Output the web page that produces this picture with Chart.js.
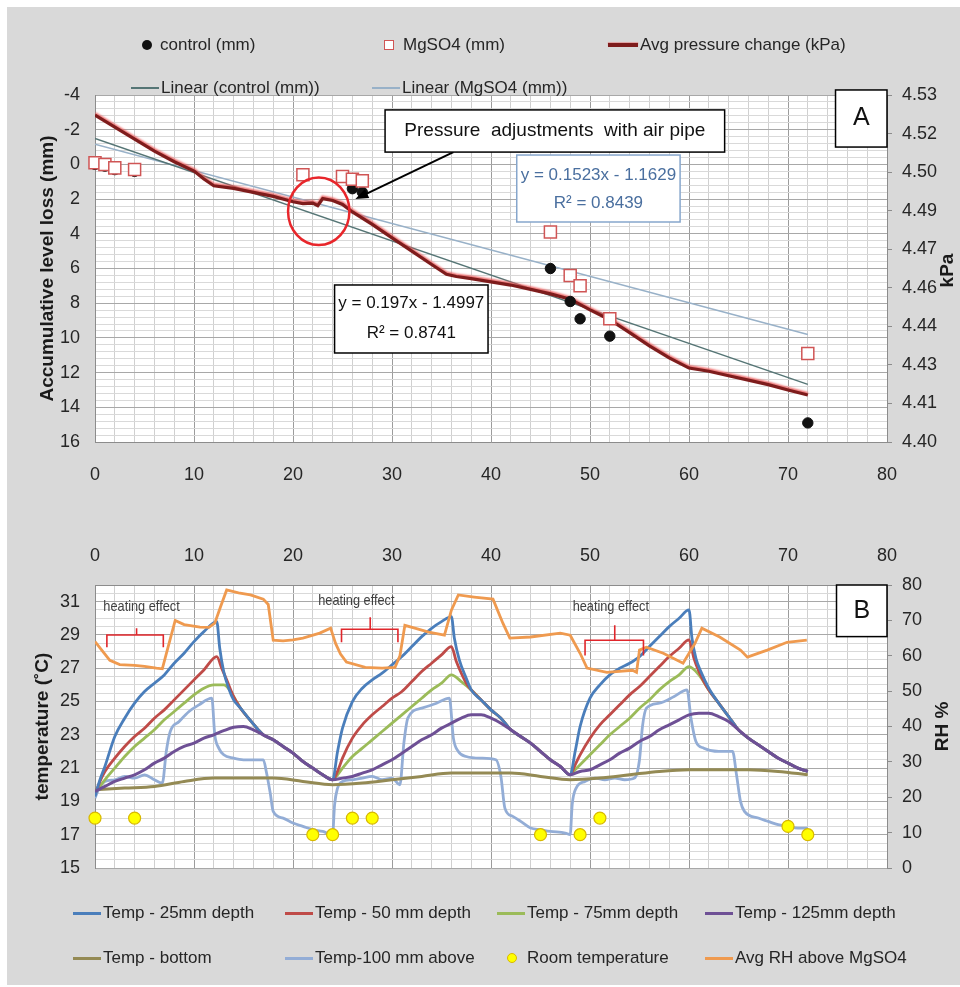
<!DOCTYPE html>
<html>
<head>
<meta charset="utf-8">
<script src="https://cdn.jsdelivr.net/npm/chart.js@4.4.0/dist/chart.umd.min.js"></script>
<style>
  html, body { margin: 0; padding: 0; background: #fff; }
  #wrap { position: relative; width: 960px; height: 987px; overflow: hidden; font-family: "Liberation Sans", Arial, sans-serif; }
  #panel { position: absolute; left: 7px; top: 7px; right: 0; bottom: 2px; background: #d9d9d9; }
  canvas { position: absolute; left: 0; }
  #levelChart { top: 0; }
  #tempChart { top: 520px; }
  .lg { position: absolute; font-size: 17px; color: #262626; white-space: nowrap; line-height: 20px; }
  .mk { position: absolute; }
</style>
</head>
<body>
<div id="wrap">
  <div id="panel"></div>
  <canvas id="levelChart" width="960" height="520"></canvas>
  <canvas id="tempChart" width="960" height="467"></canvas>
  <div id="legends"></div>
</div>
<script>
// ---------- panel A : level loss and pressure ----------
const ctrlHours = [0, 1, 2, 4, 26, 27, 46, 48, 49, 52, 72];
const ctrlLoss = [0.0, 0.1, 0.3, 0.4, 1.4, 1.6, 6.0, 7.9, 8.9, 9.9, 14.9];
const mgHours = [0, 1, 2, 4, 21, 25, 26, 27, 46, 48, 49, 52, 72];
const mgLoss = [-0.1, 0.0, 0.2, 0.3, 0.6, 0.7, 0.85, 0.95, 3.9, 6.4, 7.0, 8.9, 10.9];
const trendHours = [0, 72];
const ctrlTrend = [-1.50, 12.68];
const mgTrend = [-1.16, 9.80];
const pressHours = [0, 2, 4, 6, 8, 10, 11, 12, 14, 16, 18, 20, 21, 22, 22.5, 23, 24, 25, 26, 28, 30, 32, 34, 35.5, 36.5, 38, 40, 42, 44, 46, 48, 50, 52, 54, 56, 58, 60, 62, 64, 66, 68, 70, 72];
const pressKpa = [4.5225, 4.5180, 4.5135, 4.5090, 4.5050, 4.5015, 4.4985, 4.4960, 4.4950, 4.4935, 4.4920, 4.4900, 4.4893, 4.4895, 4.4885, 4.4912, 4.4905, 4.4890, 4.4862, 4.4815, 4.4765, 4.4715, 4.4665, 4.4628, 4.4620, 4.4612, 4.4600, 4.4588, 4.4572, 4.4555, 4.4535, 4.4495, 4.4458, 4.4410, 4.4360, 4.4315, 4.4277, 4.4265, 4.4248, 4.4232, 4.4215, 4.4195, 4.4176];

// ---------- panel B : temperatures and RH ([hour, value]) ----------
const temp25 = [[0,19.3],[0.5,20.3],[1,21.1],[2,22.9],[3,24.0],[4,24.9],[5,25.6],[6,26.1],[7,26.6],[8,27.3],[9,27.9],[10,28.6],[11,29.2],[12.3,29.8],[12.6,28.2],[13,26.8],[13.5,25.8],[14,25.1],[14.7,24.6],[15.5,24.0],[16.5,23.3],[17,23.0],[18,22.7],[19,22.3],[20,21.9],[21,21.4],[22,21.0],[23,20.6],[24,20.3],
  [24.5,22.0],[25,23.4],[26,25.0],[27,25.8],[28,26.3],[29,26.7],[30,27.2],[31,27.7],[32,28.3],[33,28.9],[34,29.4],[35,29.8],[36,30.1],[36.3,28.8],[36.8,27.5],[37.5,26.4],[38,25.7],[39,25.1],[40,24.5],[41,24.0],[42,23.3],[43,22.9],[44,22.5],[45,22.0],[46,21.5],[47,21.1],[48,20.6],
  [48.5,22.0],[49,23.5],[50,25.2],[51,26.0],[52,26.6],[53,27.0],[54,27.3],[55,27.7],[56,28.3],[57,28.9],[58,29.5],[59,30.0],[60,30.5],[60.3,28.8],[60.7,27.6],[61.2,26.8],[62,25.8],[63,24.9],[64,24.1],[65,23.3],[66,22.8],[67,22.4],[68,22.0],[69,21.6],[70,21.3],[71,21.0],[72,20.8]];
const temp50 = [[0,19.4],[0.5,20.2],[1,20.8],[2,21.6],[3,22.3],[4,22.9],[5,23.4],[6,24.0],[7,24.5],[8,25.1],[9,25.7],[10,26.3],[11,26.9],[12.3,27.7],[12.8,27.0],[13.3,26.3],[14,25.3],[14.7,24.6],[15.5,24.0],[16.5,23.3],[17,23.0],[18,22.7],[19,22.3],[20,21.9],[21,21.4],[22,21.0],[23,20.6],[24,20.3],
  [24.5,20.8],[25,21.6],[26,22.8],[27,23.6],[28,24.2],[29,24.7],[30,25.2],[31,25.6],[32,26.2],[33,26.8],[34,27.3],[35,27.8],[36,28.3],[36.5,27.4],[37,26.7],[37.5,26.1],[38,25.7],[39,25.1],[40,24.5],[41,24.0],[42,23.3],[43,22.9],[44,22.5],[45,22.0],[46,21.5],[47,21.1],[48,20.6],
  [48.5,21.2],[49,21.8],[50,22.8],[51,23.6],[52,24.2],[53,24.8],[54,25.4],[55,25.9],[56,26.5],[57,27.1],[58,27.7],[59,28.2],[60,28.7],[60.5,27.6],[61,26.8],[61.5,26.2],[62,25.7],[63,24.9],[64,24.1],[65,23.3],[66,22.8],[67,22.4],[68,22.0],[69,21.6],[70,21.3],[71,21.0],[72,20.8]];
const temp75 = [[0,19.5],[1,20.3],[2,21.0],[3,21.7],[4,22.3],[5,22.8],[6,23.3],[7,23.9],[8,24.4],[9,24.9],[10,25.4],[11,25.8],[12,26.0],[13,26.0],[13.6,25.7],[14.2,25.1],[14.7,24.6],[15.5,24.0],[16.5,23.3],[17,23.0],[18,22.7],[19,22.3],[20,21.9],[21,21.4],[22,21.0],[23,20.6],[24,20.3],
  [24.5,20.6],[25,21.0],[26,21.7],[27,22.2],[28,22.7],[29,23.2],[30,23.7],[31,24.2],[32,24.7],[33,25.2],[34,25.7],[35,26.1],[36,26.6],[37,26.2],[38,25.7],[39,25.1],[40,24.5],[41,24.0],[42,23.3],[43,22.9],[44,22.5],[45,22.0],[46,21.5],[47,21.1],[48,20.6],
  [48.5,20.9],[49,21.2],[50,21.8],[51,22.4],[52,23.0],[53,23.5],[54,24.0],[55,24.6],[56,25.1],[57,25.7],[58,26.2],[59,26.6],[60,27.1],[61,26.6],[62,25.7],[63,24.9],[64,24.1],[65,23.3],[66,22.8],[67,22.4],[68,22.0],[69,21.6],[70,21.3],[71,21.0],[72,20.8]];
const temp125 = [[0,19.6],[1,19.9],[2,20.2],[3,20.4],[4,20.6],[5,20.9],[6,21.3],[7,21.6],[8,22.0],[9,22.3],[10,22.5],[11,22.8],[12,23.0],[13,23.25],[14,23.45],[15,23.5],[16,23.3],[17,23.0],[18,22.7],[19,22.3],[20,21.9],[21,21.4],[22,21.0],[23,20.6],[24,20.3],
  [25,20.4],[26,20.5],[27,20.7],[28,20.9],[29,21.2],[30,21.5],[31,21.9],[32,22.3],[33,22.7],[34,23.0],[35,23.4],[36,23.7],[37,24.0],[38,24.2],[39,24.2],[40,24.0],[41,23.7],[42,23.3],[43,22.9],[44,22.5],[45,22.0],[46,21.5],[47,21.1],[48,20.6],
  [49,20.8],[50,20.9],[51,21.2],[52,21.5],[53,21.9],[54,22.2],[55,22.6],[56,22.9],[57,23.3],[58,23.6],[59,23.9],[60,24.2],[61,24.3],[62,24.3],[63,24.1],[64,23.8],[65,23.3],[66,22.8],[67,22.4],[68,22.0],[69,21.6],[70,21.3],[71,21.0],[72,20.8]];
const tempBottom = [[0,19.7],[3,19.8],[6,19.9],[9,20.2],[12,20.4],[15,20.4],[18,20.4],[21,20.2],[24,20.0],[27,20.1],[30,20.3],[33,20.5],[36,20.7],[39,20.7],[42,20.7],[45,20.5],[48,20.3],[51,20.4],[54,20.6],[57,20.8],[60,20.9],[63,20.9],[66,20.9],[69,20.8],[72,20.6]];
const temp100Above = [[0,19.2],[0.5,19.9],[1,20.2],[2,20.3],[3,20.5],[4,20.4],[5,20.6],[6,20.3],[6.8,20.1],[7.2,22.0],[7.6,23.2],[8.5,23.8],[9.5,24.4],[10.5,24.8],[11.8,25.2],[12.1,23.0],[12.5,22.2],[13,21.8],[14,21.6],[15,21.5],[16,21.5],[17,21.5],[17.3,20.8],[17.7,19.5],[18,18.4],[19,18.0],[20,17.7],[21,17.5],[22,17.3],[23,17.2],[24,17.0],
  [24.2,18.8],[24.5,19.8],[25,20.2],[26,20.3],[27,20.4],[28,20.5],[29,20.3],[30,20.4],[30.8,20.0],[31.2,22.5],[31.6,24.0],[33,24.6],[34.5,24.9],[35.8,25.2],[36.2,22.8],[36.7,22.0],[37.5,21.7],[39,21.6],[40.5,21.5],[41,20.5],[41.4,18.6],[42.2,18.1],[43,17.8],[44,17.4],[45,17.3],[46,17.2],[47.5,17.1],[48,17.0],
  [48.2,18.8],[48.6,19.8],[49.5,20.2],[50.5,20.4],[51.5,20.3],[52.5,20.4],[53.5,20.3],[54.5,20.4],[55,21.5],[55.3,23.5],[55.7,24.6],[57,24.9],[58.5,25.3],[59.8,25.7],[60.2,24.0],[60.7,22.6],[61.5,22.2],[63,22.0],[64.4,22.0],[64.8,20.6],[65.2,19.0],[65.6,18.4],[67,18.0],[68,17.8],[69,17.6],[70,17.5],[71,17.4],[72,17.4]];
const roomTemp = [[0,18],[4,18],[22,17],[24,17],[26,18],[28,18],[45,17],[49,17],[51,18],[70,17.5],[72,17]];
const rhAvg = [[0,64.0],[0.7,61.5],[1.5,58.7],[2.5,57.5],[4,57.3],[5,57.0],[6.2,56.5],[6.8,56.3],[7.3,61.6],[8.1,70.0],[9,68.8],[10.6,68.1],[11.5,68.0],[12.1,69.2],[12.7,74.0],[13.3,78.6],[14.5,77.8],[15.7,77.2],[17,76.0],[17.5,74.5],[18,64.4],[19,64.2],[20,64.5],[21,65.0],[22.7,66.4],[23.8,67.8],
  [24.3,63.5],[24.8,60.5],[25.4,58.2],[27.3,56.7],[29,56.5],[30.3,56.7],[30.8,60.0],[31.3,68.6],[32.3,67.8],[33.7,66.7],[35.3,65.8],[36,72.9],[36.7,77.2],[38.3,76.6],[40.2,76.0],[41.2,69.2],[41.9,65.0],[44,65.3],[47,66.4],[48,65.8],
  [49,60.7],[49.7,56.5],[51.7,55.3],[54.3,55.9],[54.7,55.3],[55,61.6],[55.7,62.4],[57.4,60.7],[59.4,57.9],[60.6,63.5],[61.3,67.8],[63.1,65.3],[65.2,61.6],[65.9,59.6],[67.9,61.6],[69.9,63.8],[71.9,64.4]];

const FONT = '"Liberation Sans", Arial, sans-serif';
Chart.defaults.font.family = FONT;
Chart.defaults.font.size = 18;
Chart.defaults.color = '#262626';

const zip = (xs, ys) => xs.map((x, i) => ({ x: x, y: ys[i] }));
const pairs = arr => arr.map(p => ({ x: p[0], y: p[1] }));
const near = (a, b) => Math.abs(a - b) < 1e-6;

const plotBg = {
  id: 'plotBg',
  beforeDraw(chart) {
    const { ctx, chartArea: a } = chart;
    ctx.save();
    ctx.fillStyle = '#ffffff';
    ctx.fillRect(a.left, a.top, a.right - a.left, a.bottom - a.top);
    ctx.restore();
  }
};

function vTitle(ctx, text, x, y) {
  ctx.save();
  ctx.translate(x, y);
  ctx.rotate(-Math.PI / 2);
  ctx.textAlign = 'center';
  ctx.textBaseline = 'middle';
  ctx.font = 'bold 19px ' + FONT;
  ctx.fillStyle = '#1a1a1a';
  ctx.fillText(text, 0, 0);
  ctx.restore();
}

function noteBox(ctx, x0, y0, x1, y1, stroke, lw) {
  ctx.fillStyle = '#ffffff';
  ctx.fillRect(x0, y0, x1 - x0, y1 - y0);
  ctx.strokeStyle = stroke;
  ctx.lineWidth = lw;
  ctx.strokeRect(x0, y0, x1 - x0, y1 - y0);
}

function noteText(ctx, text, x, y, size, color) {
  ctx.font = size + 'px ' + FONT;
  ctx.fillStyle = color;
  ctx.textAlign = 'center';
  ctx.textBaseline = 'middle';
  ctx.fillText(text, x, y);
}

// pressure line halo
const halo = {
  id: 'halo',
  beforeDatasetDraw(chart, args) {
    if (chart.data.datasets[args.index].halo) {
      chart.ctx.save();
      chart.ctx.shadowColor = 'rgba(235,90,90,0.85)';
      chart.ctx.shadowBlur = 2;
      chart.ctx.shadowOffsetY = -1.5;
    }
  },
  afterDatasetDraw(chart, args) {
    if (chart.data.datasets[args.index].halo) chart.ctx.restore();
  }
};

const levelNotes = {
  id: 'levelNotes',
  afterDatasetsDraw(chart) {
    const { ctx, chartArea: a, scales: { x, y } } = chart;
    const px = v => x.getPixelForValue(v), py = v => y.getPixelForValue(v);
    ctx.save();
    // circle round the adjustment
    ctx.strokeStyle = '#e8262b';
    ctx.lineWidth = 2.5;
    ctx.beginPath();
    ctx.ellipse(px(22.6), py(2.7), px(25.7) - px(22.6), py(4.65) - py(2.7), 0, 0, Math.PI * 2);
    ctx.stroke();
    // arrow
    const ax0 = px(36.2), ay0 = py(-0.71), ax1 = px(26.3), ay1 = py(2.0);
    const ang = Math.atan2(ay1 - ay0, ax1 - ax0);
    ctx.strokeStyle = '#000';
    ctx.lineWidth = 2;
    ctx.beginPath();
    ctx.moveTo(ax0, ay0);
    ctx.lineTo(ax1 - 8 * Math.cos(ang), ay1 - 8 * Math.sin(ang));
    ctx.stroke();
    ctx.fillStyle = '#000';
    ctx.beginPath();
    ctx.moveTo(ax1, ay1);
    ctx.lineTo(ax1 - 13 * Math.cos(ang) + 5 * Math.sin(ang), ay1 - 13 * Math.sin(ang) - 5 * Math.cos(ang));
    ctx.lineTo(ax1 - 13 * Math.cos(ang) - 5 * Math.sin(ang), ay1 - 13 * Math.sin(ang) + 5 * Math.cos(ang));
    ctx.closePath();
    ctx.fill();
    // annotation boxes
    noteBox(ctx, px(29.3), py(-3.14), px(63.6), py(-0.71), '#000', 1.5);
    noteText(ctx, 'Pressure  adjustments  with air pipe', px(46.45), py(-1.93), 19, '#111');
    noteBox(ctx, px(42.6), py(-0.54), px(59.1), py(3.32), '#86a6cc', 1.5);
    noteText(ctx, 'y = 0.1523x - 1.1629', px(50.85), py(0.61), 17, '#4a6f9f');
    noteText(ctx, 'R\u00b2 = 0.8439', px(50.85), py(2.22), 17, '#4a6f9f');
    noteBox(ctx, px(24.2), py(6.95), px(39.7), py(10.87), '#000', 1.5);
    noteText(ctx, 'y = 0.197x - 1.4997', px(31.95), py(7.99), 17, '#111');
    noteText(ctx, 'R\u00b2 = 0.8741', px(31.95), py(9.72), 17, '#111');
    noteBox(ctx, px(74.8), py(-4.29), px(80), py(-1.0), '#000', 1.5);
    noteText(ctx, 'A', px(77.4), py(-2.67), 25, '#111');
    vTitle(ctx, 'Accumulative level loss (mm)', a.left - 47, (a.top + a.bottom) / 2);
    vTitle(ctx, 'kPa', a.right + 61, (a.top + a.bottom) / 2 + 2);
    ctx.restore();
  }
};

new Chart(document.getElementById('levelChart'), {
  type: 'scatter',
  data: {
    datasets: [{
      label: 'MgSO4 (mm)',
      data: zip(mgHours, mgLoss),
      pointStyle: 'rect',
      pointRadius: 8.5,
      borderColor: '#d05555',
      backgroundColor: '#ffffff',
      borderWidth: 1.5,
      clip: false,
      order: 0
    }, {
      label: 'control (mm)',
      data: zip(ctrlHours, ctrlLoss),
      pointRadius: 5.2,
      borderColor: '#111111',
      backgroundColor: '#111111',
      clip: false,
      order: 1
    }, {
      label: 'Avg pressure change (kPa)',
      type: 'line',
      data: zip(pressHours, pressKpa),
      yAxisID: 'y2',
      borderColor: '#7e1c1c',
      borderWidth: 3.2,
      pointRadius: 0,
      tension: 0,
      halo: true,
      order: 2
    }, {
      label: 'Linear (control (mm))',
      type: 'line',
      data: zip(trendHours, ctrlTrend),
      borderColor: '#557575',
      borderWidth: 1.5,
      pointRadius: 0,
      order: 3
    }, {
      label: 'Linear (MgSO4 (mm))',
      type: 'line',
      data: zip(trendHours, mgTrend),
      borderColor: '#98b1c8',
      borderWidth: 1.5,
      pointRadius: 0,
      order: 4
    }]
  },
  plugins: [plotBg, halo, levelNotes],
  options: {
    responsive: false,
    animation: false,
    events: [],
    layout: { padding: { top: 95, left: 0, right: 0, bottom: 0 } },
    plugins: { legend: { display: false }, tooltip: { enabled: false } },
    scales: {
      x: {
        type: 'linear', min: 0, max: 80,
        afterFit: s => { s.height = 78; },
        border: { color: '#8c8c8c' },
        grid: { drawTicks: false, color: c => (c.tick && c.tick.value % 10 === 0) ? '#9c9c9c' : '#d0d0d0' },
        ticks: { stepSize: 2, autoSkip: false, maxRotation: 0, padding: 22, callback: v => v % 10 === 0 ? String(v) : '' }
      },
      y: {
        min: -4, max: 16, reverse: true,
        afterFit: s => { s.width = 95; },
        border: { color: '#8c8c8c' },
        grid: { drawTicks: false, color: c => (c.tick && near(c.tick.value, Math.round(c.tick.value)) && Math.round(c.tick.value) % 2 === 0) ? '#a8a8a8' : '#d9d9d9' },
        ticks: { stepSize: 0.4, autoSkip: false, padding: 15, callback: v => (near(v, Math.round(v)) && Math.round(v) % 2 === 0) ? String(Math.round(v)) : '' }
      },
      y2: {
        position: 'right', min: 4.40, max: 4.53,
        afterFit: s => { s.width = 73; },
        border: { color: '#8c8c8c' },
        grid: { drawOnChartArea: false, tickLength: 5, color: '#8c8c8c' },
        ticks: { stepSize: 0.13 / 9, padding: 10, callback: v => v.toFixed(2) }
      }
    }
  }
});

// heating brackets: [x0, x1, yTop, yEnd, xTick, yTick, textX, textY]
const heatNotes = [
  [1.2, 6.9, 29.0, 28.26, 4.2, 29.4, 4.7, 30.67],
  [24.9, 30.6, 29.34, 28.56, 27.8, 30.07, 26.4, 31.03],
  [49.5, 55.4, 28.68, 27.77, 52.5, 29.58, 52.1, 30.67]
];

const tempNotes = {
  id: 'tempNotes',
  afterDatasetsDraw(chart) {
    const { ctx, chartArea: a, scales: { x, y } } = chart;
    const px = v => x.getPixelForValue(v), py = v => y.getPixelForValue(v);
    ctx.save();
    heatNotes.forEach(h => {
      ctx.strokeStyle = '#e0262b';
      ctx.lineWidth = 1.6;
      ctx.beginPath();
      ctx.moveTo(px(h[0]), py(h[3]));
      ctx.lineTo(px(h[0]), py(h[2]));
      ctx.lineTo(px(h[1]), py(h[2]));
      ctx.lineTo(px(h[1]), py(h[3]));
      ctx.moveTo(px(h[4]), py(h[2]));
      ctx.lineTo(px(h[4]), py(h[5]));
      ctx.stroke();
      ctx.save();
      ctx.translate(px(h[6]), py(h[7]));
      ctx.scale(0.85, 1);
      noteText(ctx, 'heating effect', 0, 0, 15, '#404040');
      ctx.restore();
    });
    noteBox(ctx, px(74.9), py(32), px(80), py(28.9), '#000', 1.5);
    noteText(ctx, 'B', px(77.45), py(30.45), 25, '#111');
    vTitle(ctx, 'temperature (\u02daC)', a.left - 52, (a.top + a.bottom) / 2);
    vTitle(ctx, 'RH %', a.right + 56, (a.top + a.bottom) / 2);
    ctx.restore();
  }
};

const tempLine = (label, data, color, width, axis) => ({
  label: label, type: 'line', data: pairs(data), borderColor: color, backgroundColor: color,
  borderWidth: width, pointRadius: 0, cubicInterpolationMode: 'monotone', yAxisID: axis || 'y'
});

new Chart(document.getElementById('tempChart'), {
  type: 'line',
  data: {
    datasets: [
      { label: 'Room temperature', type: 'scatter', data: pairs(roomTemp), pointRadius: 6, backgroundColor: '#ffff00', borderColor: '#d8b800', borderWidth: 1.2, clip: false, order: 0 },
      Object.assign(tempLine('Temp - 25mm depth', temp25, '#4a7ebb', 2.8), { order: 3 }),
      Object.assign(tempLine('Temp - 50 mm depth', temp50, '#bf4b48', 2.8), { order: 4 }),
      Object.assign(tempLine('Temp - 75mm depth', temp75, '#9bbb59', 2.8), { order: 5 }),
      Object.assign(tempLine('Temp - 125mm depth', temp125, '#6e5095', 3), { order: 2 }),
      Object.assign(tempLine('Temp - bottom', tempBottom, '#948a54', 3), { order: 6 }),
      Object.assign(tempLine('Temp-100 mm above', temp100Above, '#93add6', 2.8), { order: 7 }),
      Object.assign(tempLine('Avg RH above MgSO4', rhAvg, '#ef9a4f', 2.8, 'y2'), { order: 1, cubicInterpolationMode: 'default', tension: 0 })
    ]
  },
  plugins: [plotBg, tempNotes],
  options: {
    responsive: false,
    animation: false,
    events: [],
    layout: { padding: { top: 0, left: 0, right: 0, bottom: 119 } },
    plugins: { legend: { display: false }, tooltip: { enabled: false } },
    scales: {
      x: {
        type: 'linear', position: 'top', min: 0, max: 80,
        afterFit: s => { s.height = 65; },
        border: { color: '#8c8c8c' },
        grid: { drawTicks: false, color: c => (c.tick && c.tick.value % 10 === 0) ? '#9c9c9c' : '#d0d0d0' },
        ticks: { stepSize: 2, autoSkip: false, maxRotation: 0, padding: 18, callback: v => v % 10 === 0 ? String(v) : '' }
      },
      y: {
        min: 15, max: 32,
        afterFit: s => { s.width = 95; },
        border: { color: '#8c8c8c' },
        grid: { drawTicks: false, color: c => (c.tick && near(c.tick.value, Math.round(c.tick.value)) && (Math.round(c.tick.value) - 15) % 2 === 0) ? '#a8a8a8' : '#d9d9d9' },
        ticks: { stepSize: 0.5, autoSkip: false, padding: 15, callback: v => (near(v, Math.round(v)) && (Math.round(v) - 15) % 2 === 0) ? String(Math.round(v)) : '' }
      },
      y2: {
        position: 'right', min: 0, max: 80,
        afterFit: s => { s.width = 73; },
        border: { color: '#8c8c8c' },
        grid: { drawOnChartArea: false, tickLength: 5, color: '#8c8c8c' },
        ticks: { stepSize: 10, padding: 10 }
      }
    }
  }
});

// ---------- legends (html) ----------
const legendHost = document.getElementById('legends');
function legendItem(label, mark, color, mx, tx, y, extra) {
  const m = document.createElement('div');
  m.className = 'mk';
  if (mark === 'dot') {
    Object.assign(m.style, { left: (mx - 5) + 'px', top: (y - 5) + 'px', width: '10px', height: '10px', borderRadius: '50%', background: color, boxSizing: 'border-box', border: extra ? '1px solid ' + extra : 'none' });
  } else if (mark === 'rect') {
    Object.assign(m.style, { left: (mx - 5) + 'px', top: (y - 5) + 'px', width: '10px', height: '10px', background: '#fff', boxSizing: 'border-box', border: '1.5px solid ' + color });
  } else {
    const w = extra || 3;
    Object.assign(m.style, { left: mx + 'px', top: (y - w / 2) + 'px', width: (tx - mx - 2) + 'px', height: w + 'px', background: color });
    if (label.indexOf('pressure') >= 0) m.style.boxShadow = '0 -1.5px 1px rgba(235,90,90,0.8)';
  }
  legendHost.appendChild(m);
  const t = document.createElement('div');
  t.className = 'lg';
  t.textContent = label;
  t.style.left = tx + 'px';
  t.style.top = (y - 10) + 'px';
  legendHost.appendChild(t);
}

legendItem('control (mm)', 'dot', '#111', 147, 160, 45);
legendItem('MgSO4 (mm)', 'rect', '#d05555', 389, 403, 45);
legendItem('Avg pressure change (kPa)', 'line', '#7e1c1c', 608, 640, 45, 4);
legendItem('Linear (control (mm))', 'line', '#557575', 131, 161, 88, 2);
legendItem('Linear (MgSO4 (mm))', 'line', '#98b1c8', 372, 402, 88, 2);

legendItem('Temp - 25mm depth', 'line', '#4a7ebb', 73, 103, 913);
legendItem('Temp - 50 mm depth', 'line', '#bf4b48', 285, 315, 913);
legendItem('Temp - 75mm depth', 'line', '#9bbb59', 497, 527, 913);
legendItem('Temp - 125mm depth', 'line', '#6e5095', 705, 735, 913);
legendItem('Temp - bottom', 'line', '#948a54', 73, 103, 958);
legendItem('Temp-100 mm above', 'line', '#93add6', 285, 315, 958);
legendItem('Room temperature', 'dot', '#ffff00', 512, 527, 958, '#d8b800');
legendItem('Avg RH above MgSO4', 'line', '#ef9a4f', 705, 735, 958);
</script>
</body>
</html>
